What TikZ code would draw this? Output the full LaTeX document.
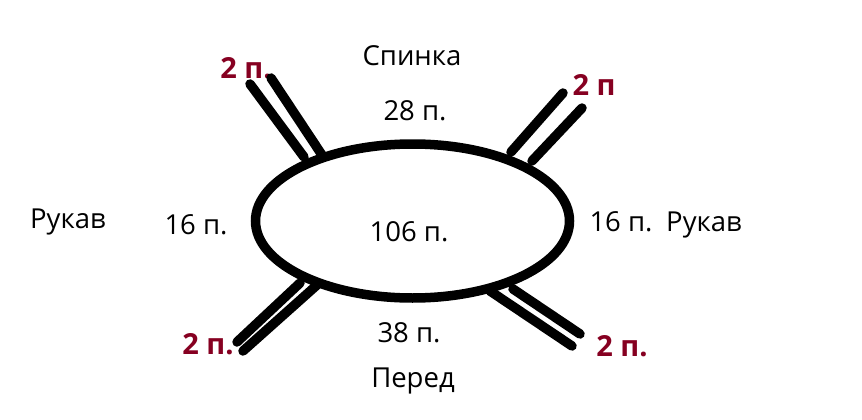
\documentclass[tikz,border=0pt]{standalone}
\usepackage{fontspec}
\setmainfont{Open Sans}
\usetikzlibrary{positioning}
\definecolor{cntred}{RGB}{134,0,33}
\tikzset{lbl/.style={font=\fontsize{27.5}{32}\selectfont,inner sep=0pt}}
\tikzset{cnt/.style={font=\fontsize{29}{34}\selectfont\bfseries,text=cntred,inner sep=0pt}}
\tikzset{seam/.style={line width=9.5pt,line cap=round}}

\begin{document}
\begin{tikzpicture}[x=1pt,y=-1pt]
  \useasboundingbox (0,0) rectangle (862,420);
  \draw[line width=9.5pt] (412.5,221) ellipse [x radius=157, y radius=77];
  % labels
  \node(back)[lbl] at (412,56) {Спинка};
  \node(backn)[lbl] at (415,111) {28 п.};
  \node(front)[lbl] at (413,381) {Перед};
  \node(frontn)[lbl] at (409,333) {38 п.};
  \node(neckn)[lbl] at (409,232) {106 п.};
  \node(slvl)[lbl] at (68,222) {Рукав};
  \node(slvln)[lbl] at (196,225) {16 п.};
  \node(slvr)[lbl] at (704,225) {Рукав};
  \node(slvrn)[lbl] at (621,222) {16 п.};
  \node(ul)[cnt] at (246,68) {2 п.};
  \node(ur)[cnt] at (594,85) {2 п};
  \node(ll)[cnt] at (208,344) {2 п.};
  \node(lr)[cnt] at (622,346) {2 п.};
  % raglan lines
  \coordinate(ula1) at (250,84);  \coordinate(ulb1) at (304,157);
  \coordinate(ula2) at (271,78);  \coordinate(ulb2) at (322,155);
  \coordinate(ura1) at (563,93);  \coordinate(urb1) at (511,152);
  \coordinate(ura2) at (582,108); \coordinate(urb2) at (532,161);
  \coordinate(lla1) at (237,342); \coordinate(llb1) at (300,283);
  \coordinate(lla2) at (243,351); \coordinate(llb2) at (317,285);
  \coordinate(lra1) at (580,334); \coordinate(lrb1) at (513,289);
  \coordinate(lra2) at (572,346); \coordinate(lrb2) at (490,291);
  \draw[seam] (ula1) -- (ulb1);
  \draw[seam] (ula2) -- (ulb2);
  \draw[seam] (ura1) -- (urb1);
  \draw[seam] (ura2) -- (urb2);
  \draw[seam] (lla1) -- (llb1);
  \draw[seam] (lla2) -- (llb2);
  \draw[seam] (lra1) -- (lrb1);
  \draw[seam] (lra2) -- (lrb2);
\end{tikzpicture}
\end{document}
